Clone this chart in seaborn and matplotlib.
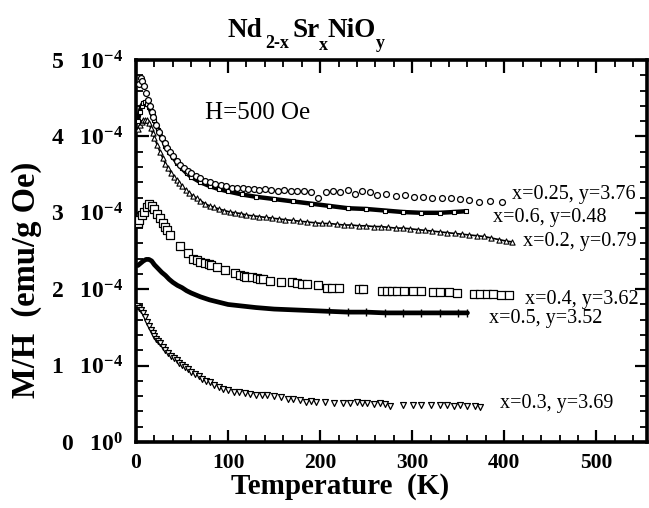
import numpy as np
import pandas as pd
import matplotlib
matplotlib.use("Agg")
import matplotlib.pyplot as plt
import seaborn as sns
from matplotlib.ticker import FixedLocator, FixedFormatter, MultipleLocator

# ---------------- data ----------------
# x=0.25, y=3.76 : open circles
T_025 = [3, 5, 7, 9, 11, 13, 15, 17, 19, 22, 25, 28, 31, 34, 37, 40, 44, 48, 52, 56,
         60, 65, 70, 75, 80, 86, 92, 98, 104, 110, 116, 122, 128, 134, 140, 147, 154, 161, 168, 175,
         182, 190, 198, 206, 214, 222, 230, 238, 246, 254, 262, 272, 282, 292, 302, 312, 322, 332, 342, 352,
         362, 372, 384, 398]
M_025 = [4.68, 4.76, 4.73, 4.66, 4.57, 4.48, 4.40, 4.32, 4.25, 4.15, 4.06, 3.98, 3.91, 3.85, 3.79, 3.74, 3.68, 3.63, 3.59, 3.55,
         3.52, 3.48, 3.45, 3.42, 3.40, 3.38, 3.36, 3.35, 3.33, 3.33, 3.32, 3.31, 3.31, 3.30, 3.31, 3.30, 3.29, 3.30, 3.28, 3.29,
         3.28, 3.27, 3.20, 3.27, 3.28, 3.27, 3.30, 3.25, 3.29, 3.27, 3.23, 3.24, 3.22, 3.23, 3.21, 3.21, 3.20, 3.20, 3.19, 3.18,
         3.17, 3.14, 3.15, 3.14]

# x=0.6, y=0.48 : dense points forming a thick line
T_06 = [2, 4, 6, 8, 10, 12, 14, 16, 18, 20, 24, 28, 32, 36, 40, 45, 50, 55, 60, 70,
        80, 90, 100, 115, 130, 150, 170, 190, 210, 230, 250, 270, 290, 310, 330, 345, 358]
M_06 = [4.20, 4.32, 4.40, 4.44, 4.45, 4.43, 4.39, 4.33, 4.27, 4.21, 4.09, 3.98, 3.88, 3.80, 3.73, 3.65, 3.58, 3.52, 3.47, 3.40,
        3.35, 3.31, 3.28, 3.24, 3.21, 3.18, 3.15, 3.12, 3.09, 3.06, 3.05, 3.03, 3.01, 3.00, 3.00, 3.01, 3.02]

# x=0.2, y=0.79 : small open up-triangles
T_02 = [2, 4, 6, 8, 10, 12, 14, 16, 18, 20, 23, 26, 29, 32, 35, 38, 41, 44, 47, 50,
        54, 58, 62, 66, 70, 75, 80, 85, 90, 96, 102, 108, 114, 120, 127, 134, 141, 148, 155, 162,
        170, 178, 186, 194, 202, 210, 218, 226, 234, 242, 250, 258, 266, 274, 282, 290, 298, 306, 314, 322,
        330, 338, 346, 354, 362, 370, 378, 386, 394, 402, 408]
M_02 = [4.10, 4.15, 4.19, 4.21, 4.22, 4.21, 4.17, 4.11, 4.04, 3.98, 3.89, 3.80, 3.72, 3.64, 3.58, 3.52, 3.47, 3.43, 3.39, 3.35,
        3.30, 3.26, 3.22, 3.19, 3.16, 3.12, 3.09, 3.07, 3.05, 3.03, 3.01, 3.00, 2.99, 2.97, 2.96, 2.95, 2.94, 2.93, 2.92, 2.91,
        2.90, 2.89, 2.88, 2.87, 2.86, 2.86, 2.85, 2.84, 2.84, 2.83, 2.83, 2.82, 2.82, 2.81, 2.80, 2.80, 2.79, 2.78, 2.77, 2.76,
        2.75, 2.74, 2.73, 2.72, 2.71, 2.70, 2.69, 2.67, 2.65, 2.63, 2.62]

# x=0.4, y=3.62 : open squares
T_04 = [2.5, 3.6, 6.2, 8.7, 11.6, 14.5, 17, 19.6, 22.5, 26, 29, 31.5, 34, 37, 48, 57, 62, 66, 70, 75,
        79, 82, 88, 97, 108, 113, 117, 120, 126, 131, 135, 138, 146, 157, 169, 175, 180, 186, 198, 207,
        213, 220, 242, 247, 267, 273, 278, 283, 291, 301, 309, 323, 330, 340, 349, 367, 374, 381, 388, 396,
        405]
M_04 = [2.86, 2.91, 2.97, 3.01, 3.08, 3.12, 3.09, 3.05, 2.99, 2.93, 2.87, 2.82, 2.77, 2.71, 2.57, 2.47, 2.40, 2.38, 2.36, 2.34,
        2.33, 2.32, 2.29, 2.25, 2.21, 2.19, 2.17, 2.16, 2.16, 2.15, 2.14, 2.14, 2.11, 2.10, 2.09, 2.08, 2.07, 2.07, 2.05, 2.01,
        2.01, 2.02, 2.00, 2.00, 1.98, 1.98, 1.98, 1.97, 1.98, 1.97, 1.97, 1.96, 1.96, 1.96, 1.95, 1.94, 1.94, 1.94, 1.94, 1.93,
        1.92]

# x=0.5, y=3.52 : dense points forming a thick line
T_05 = [2, 5, 8, 11, 14, 17, 20, 24, 28, 32, 36, 40, 45, 50, 55, 60, 70, 80, 90, 100,
        115, 130, 150, 170, 190, 210, 230, 250, 270, 290, 310, 330, 350, 360]
M_05 = [2.31, 2.34, 2.37, 2.39, 2.39, 2.37, 2.32, 2.27, 2.22, 2.18, 2.13, 2.09, 2.05, 2.02, 1.98, 1.95, 1.90, 1.86, 1.83, 1.80,
        1.78, 1.76, 1.74, 1.73, 1.72, 1.71, 1.70, 1.70, 1.69, 1.69, 1.69, 1.69, 1.69, 1.69]

# x=0.3, y=3.69 : open down-triangles
T_03 = [1, 3, 5, 8, 10, 12, 14, 16, 18, 20, 22, 24, 26, 29, 32, 35, 38, 41, 44, 47,
        50, 53, 56, 60, 64, 68, 72, 76, 80, 85, 90, 95, 100, 106, 112, 118, 124, 130, 137, 142,
        150, 158, 165, 171, 178, 185, 190, 196, 205, 215, 225, 232, 240, 245, 251, 258, 265, 270, 276, 290,
        301, 310, 320, 330, 338, 345, 352, 360, 368, 374]
M_03 = [1.78, 1.76, 1.73, 1.69, 1.63, 1.57, 1.52, 1.47, 1.43, 1.39, 1.35, 1.32, 1.29, 1.25, 1.21, 1.17, 1.13, 1.10, 1.07, 1.04,
        1.01, 0.98, 0.96, 0.92, 0.89, 0.86, 0.83, 0.80, 0.78, 0.75, 0.72, 0.70, 0.68, 0.66, 0.65, 0.64, 0.63, 0.62, 0.61, 0.62,
        0.60, 0.59, 0.56, 0.56, 0.55, 0.53, 0.54, 0.52, 0.52, 0.51, 0.51, 0.51, 0.52, 0.51, 0.51, 0.50, 0.51, 0.50, 0.47, 0.49,
        0.48, 0.48, 0.48, 0.49, 0.48, 0.47, 0.48, 0.47, 0.47, 0.46]

SCALE = 1e-4  # values above are in units of 1e-4 emu/(g Oe)

series_labels = ["x=0.25, y=3.76", "x=0.6, y=0.48", "x=0.2, y=0.79",
                 "x=0.4, y=3.62", "x=0.5, y=3.52", "x=0.3, y=3.69"]
label_T = [408, 388, 420, 422, 383, 395]
label_M = [3.24, 2.94, 2.63, 1.87, 1.61, 0.50]

x_ticks = [0, 100, 200, 300, 400, 500]
x_ticklabels = ["0", "100", "200", "300", "400", "500"]
y_ticks = [0, 1e-4, 2e-4, 3e-4, 4e-4, 5e-4]
y_ticklabels = [r"$\mathbf{0\ \ \ 10^{0}}$", r"$\mathbf{1\ \ \ 10^{-4}}$", r"$\mathbf{2\ \ \ 10^{-4}}$",
                r"$\mathbf{3\ \ \ 10^{-4}}$", r"$\mathbf{4\ \ \ 10^{-4}}$", r"$\mathbf{5\ \ \ 10^{-4}}$"]

# title pieces: (text, x px, baseline y px, size)
title_parts = [("Nd", 228, 37, 19.5), ("2-x", 265, 48, 13), ("Sr", 292, 37, 19.5),
               ("x", 319, 50, 13), ("NiO", 328, 37, 19.5), ("y", 376, 48, 13)]

# ---------------- style ----------------
sns.set_theme(style="ticks")
plt.rcParams["font.family"] = ["Liberation Serif", "DejaVu Serif"]
plt.rcParams["mathtext.fontset"] = "custom"
plt.rcParams["mathtext.rm"] = "Liberation Serif"
plt.rcParams["mathtext.bf"] = "Liberation Serif:bold"
plt.rcParams["mathtext.it"] = "Liberation Serif:italic"
for key in ["text.color", "axes.labelcolor", "xtick.color", "ytick.color", "axes.edgecolor"]:
    plt.rcParams[key] = "black"

W, H = 649, 508
fig = plt.figure(figsize=(W / 100, H / 100), dpi=100)
ax = fig.add_axes([136 / W, 1 - 442 / H, (647 - 136) / W, (442 - 60) / H])

def df(T, M):
    return pd.DataFrame({"T": T, "M": np.array(M) * SCALE})

d025, d06, d02, d04, d05, d03 = (df(T_025, M_025), df(T_06, M_06), df(T_02, M_02),
                                  df(T_04, M_04), df(T_05, M_05), df(T_03, M_03))

# thick "lines" made of dense points
sns.lineplot(data=d06, x="T", y="M", ax=ax, color="black", lw=3.2, sort=False, estimator=None)
sns.scatterplot(data=d06, x="T", y="M", ax=ax, marker="s", s=10, facecolor="white",
                edgecolor="black", linewidth=0.8, zorder=3)
sns.lineplot(data=d05, x="T", y="M", ax=ax, color="black", lw=3.4, sort=False, estimator=None)
sns.scatterplot(data=d05[d05["T"] > 200], x="T", y="M", ax=ax, marker="|", s=40,
                color="black", linewidth=1.0, zorder=3)

# dense triangles
sns.lineplot(data=d02, x="T", y="M", ax=ax, color="black", lw=1.2, sort=False, estimator=None)
sns.scatterplot(data=d02, x="T", y="M", ax=ax, marker="^", s=14, facecolor="white",
                edgecolor="black", linewidth=0.8, zorder=3)

# open circles
sns.scatterplot(data=d025, x="T", y="M", ax=ax, marker="o", s=18, facecolor="white",
                edgecolor="black", linewidth=0.9, zorder=4)
# open squares
sns.scatterplot(data=d04, x="T", y="M", ax=ax, marker="s", s=26, facecolor="white",
                edgecolor="black", linewidth=0.9, zorder=4)
# down triangles
sns.scatterplot(data=d03, x="T", y="M", ax=ax, marker="v", s=18, facecolor="white",
                edgecolor="black", linewidth=0.9, zorder=4)

for lab, t, m in zip(series_labels, label_T, label_M):
    ax.text(t, m * SCALE, lab, fontsize=14.5, va="center", ha="left", color="black")

ax.text(75, 4.3e-4, "H=500 Oe", fontsize=18, va="center", ha="left")

ax.set_xlim(0, 555)
ax.set_ylim(0, 5e-4)
ax.xaxis.set_major_locator(FixedLocator(x_ticks))
ax.xaxis.set_major_formatter(FixedFormatter(x_ticklabels))
ax.xaxis.set_minor_locator(MultipleLocator(20))
ax.yaxis.set_major_locator(FixedLocator(y_ticks))
ax.yaxis.set_major_formatter(FixedFormatter(y_ticklabels))
ax.yaxis.set_minor_locator(MultipleLocator(0.2e-4))
ax.tick_params(which="both", direction="in", top=True, right=True, colors="black")
ax.tick_params(which="major", length=9, width=1.6)
ax.tick_params(which="minor", length=5, width=1.3)
ax.tick_params(axis="x", labelsize=15.5, pad=8)
ax.tick_params(axis="y", labelsize=17, pad=9)
for lab in ax.get_xticklabels():
    lab.set_fontweight("bold")
for sp in ax.spines.values():
    sp.set_linewidth(2.6)
    sp.set_color("black")
ax.set_xlabel("")
ax.set_ylabel("")

fig.text(340 / W, 1 - 486 / H, "Temperature  (K)", fontsize=21, fontweight="bold",
         ha="center", va="center")
fig.text(27 / W, 1 - 280 / H, "M/H  (emu/g Oe)", fontsize=23.5, fontweight="bold",
         ha="center", va="center", rotation=90)
for txt, px, py, fs in title_parts:
    fig.text(px / W, 1 - py / H, txt, fontsize=fs, fontweight="bold", ha="left", va="baseline")

fig.savefig("out.png", dpi=100)
